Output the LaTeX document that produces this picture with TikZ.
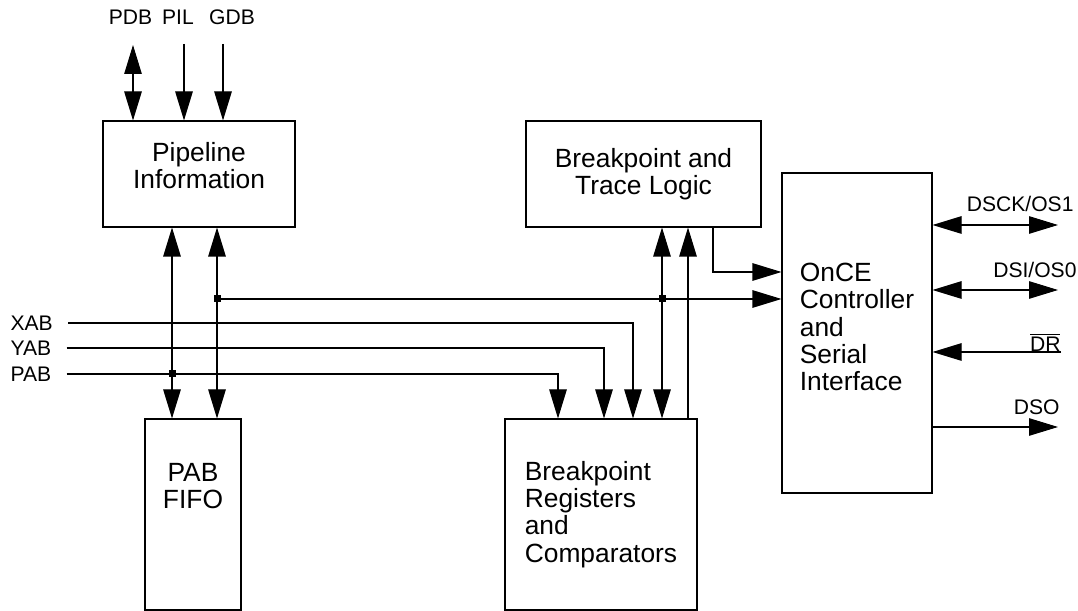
\documentclass[tikz,border=0pt]{standalone}
\usepackage{fontspec}
\setmainfont{Liberation Sans}
\usetikzlibrary{arrows.meta}

\begin{document}
\begin{tikzpicture}[
  font=\fontsize{12}{13}\selectfont,
  line width=0.6pt,
  blk/.style={draw, inner sep=0pt, align=center,
    font=\fontsize{15}{15.5}\selectfont},
  lbl/.style={inner sep=0pt},
  arr/.style={-{Triangle[length=0.58cm, width=0.35cm]}},
  arr2/.style={{Triangle[length=0.58cm, width=0.35cm]}-{Triangle[length=0.58cm, width=0.35cm]}},
  jn/.style={fill, inner sep=0pt, minimum size=0.14cm},
]
\useasboundingbox (0,0) rectangle (21.56,-12.22);

% blocks
\node[blk, minimum width=3.84cm, minimum height=2.12cm, text depth=0.34cm]
  (pipe) at (3.98,-3.48) {Pipeline\\Information};
\node[blk, minimum width=1.92cm, minimum height=3.82cm, text depth=1.14cm]
  (fifo) at (3.86,-10.29) {PAB\\FIFO};
\node[blk, minimum width=4.7cm, minimum height=2.12cm]
  (btl) at (12.87,-3.48) {Breakpoint and\\Trace Logic};
\node[blk, align=left, minimum width=3.84cm, minimum height=3.82cm]
  (breg) at (12.02,-10.29) {Breakpoint\\Registers\\and\\Comparators};
\node[blk, align=left, minimum width=3.0cm, minimum height=6.4cm, text depth=0.24cm]
  (once) at (17.14,-6.66) {OnCE\\Controller\\and\\Serial\\Interface};

% top inputs
\node[lbl] (pdb) at (2.61,-0.34) {PDB};
\node[lbl] (pil) at (3.56,-0.34) {PIL};
\node[lbl] (gdb) at (4.64,-0.34) {GDB};
\coordinate (pdbend) at (2.66,-0.9);
\coordinate (pilend) at (3.68,-0.88);
\coordinate (gdbend) at (4.46,-0.88);
\draw[arr2] (pdbend) -- (pdbend |- pipe.north);
\draw[arr] (pilend) -- (pilend |- pipe.north);
\draw[arr] (gdbend) -- (gdbend |- pipe.north);

% pipeline <-> fifo
\node[jn] (j1) at (4.34,-5.98) {};
\node[jn] (j2) at (13.24,-5.98) {};
\node[jn] (j3) at (3.44,-7.48) {};
\draw[arr2] (j3 |- pipe.south) -- (j3 |- fifo.north);
\draw[arr2] (j1 |- pipe.south) -- (j1 |- fifo.north);
\draw[arr] (j1) -- (j1 -| once.west);

% address buses
\node[lbl, anchor=west] (xab) at (0.2,-6.46) {XAB};
\node[lbl, anchor=west] (yab) at (0.2,-6.96) {YAB};
\node[lbl, anchor=west] (pab) at (0.2,-7.48) {PAB};
\draw[arr] ([xshift=0.3cm]xab.east) -| ([xshift=0.64cm]breg.north);
\draw[arr] ([xshift=0.3cm]yab.east) -| ([xshift=0.06cm]breg.north);
\draw[arr] ([xshift=0.3cm]pab.east) -| ([xshift=-0.86cm]breg.north);

% breakpoint logic
\draw[arr2] (j2 |- btl.south) -- (j2 |- breg.north);
\draw[arr] ([xshift=1.74cm]breg.north) -- ([xshift=1.74cm]breg.north |- btl.south);
\draw[arr] ([xshift=1.39cm]btl.south) |- ([yshift=1.22cm]once.west);

% serial pins
\coordinate (dsck) at (21.16,-4.5);
\coordinate (dsi) at (21.16,-5.8);
\coordinate (dr) at (21.22,-7.04);
\coordinate (dso) at (21.16,-8.54);
\draw[arr2] (once.east |- dsck) -- (dsck);
\draw[arr2] (once.east |- dsi) -- (dsi);
\draw[arr] (dr) -- (once.east |- dr);
\draw[arr] (once.east |- dso) -- (dso);
\node[lbl, anchor=east] (dscklbl) at (21.48,-4.08) {DSCK/OS1};
\node[lbl, anchor=east] (dsilbl) at (21.54,-5.4) {DSI/OS0};
\node[lbl, anchor=east] (drlbl) at (21.22,-6.84) {$\overline{\mbox{DR}}$};
\node[lbl, anchor=east] (dsolbl) at (21.2,-8.14) {DSO};

\end{tikzpicture}
\end{document}
